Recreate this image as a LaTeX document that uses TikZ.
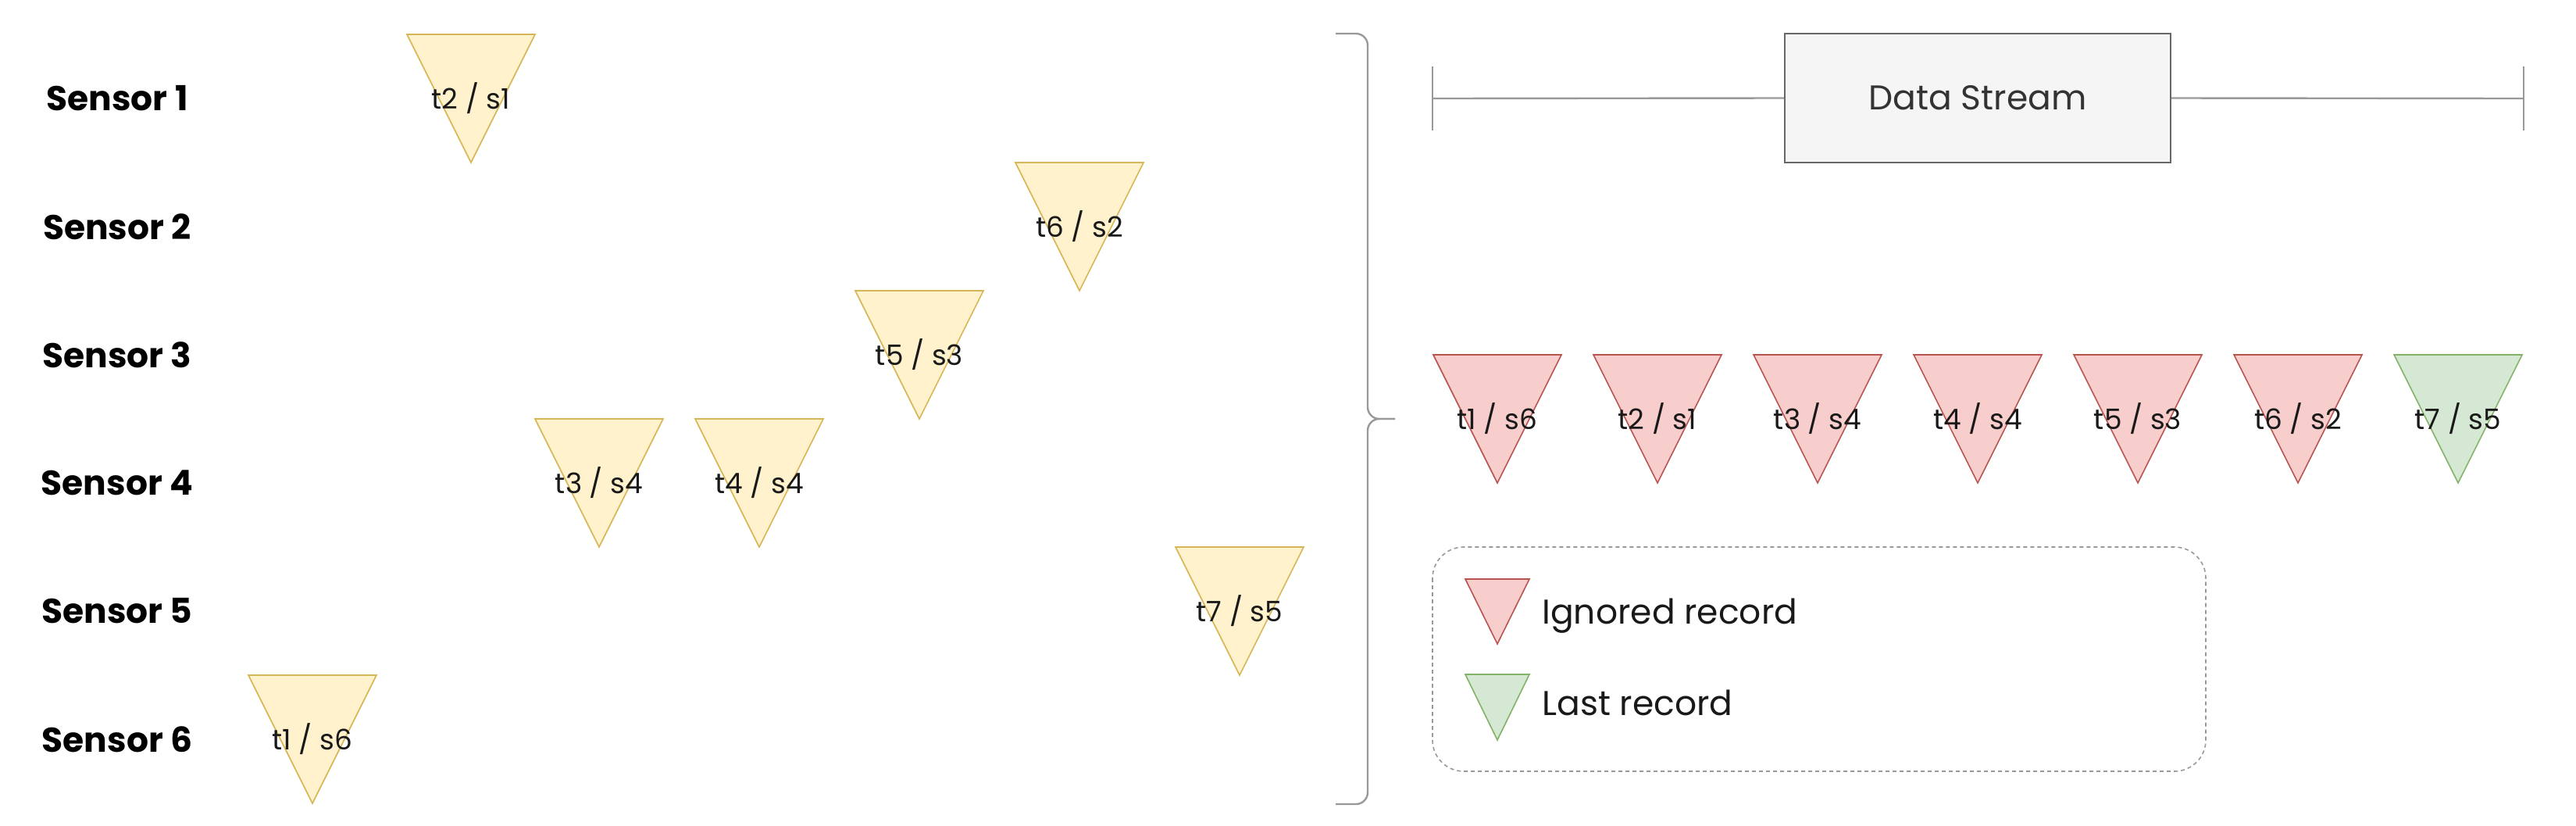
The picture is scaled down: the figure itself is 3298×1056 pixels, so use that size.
\documentclass[tikz,border=0pt]{standalone}
\usepackage{fontspec}
\setmainfont{Poppins}
\definecolor{yfill}{HTML}{FFF2CC}
\definecolor{ydraw}{HTML}{D6B656}
\definecolor{rfill}{HTML}{F8CECC}
\definecolor{rdraw}{HTML}{B85450}
\definecolor{gfill}{HTML}{D5E8D4}
\definecolor{gdraw}{HTML}{82B366}
\definecolor{boxfill}{HTML}{F5F5F5}
\definecolor{boxdraw}{HTML}{666666}
\definecolor{linegray}{HTML}{999999}
\definecolor{txt}{HTML}{333333}
\begin{document}
\begin{tikzpicture}[x=0.5pt,y=-0.5pt,
  sensorlabel/.style={font=\fontsize{22}{25}\selectfont\bfseries, text=black, inner sep=0pt},
  trilabel/.style={font=\fontsize{18}{21}\selectfont, text=black!90, inner sep=0pt},
  legendlabel/.style={font=\fontsize{22}{25}\selectfont, text=black!90, inner sep=0pt, anchor=west},
  ytri/.style={fill=yfill, draw=ydraw, line width=0.8pt, line join=miter},
  rtri/.style={fill=rfill, draw=rdraw, line width=0.8pt, line join=miter},
  gtri/.style={fill=gfill, draw=gdraw, line width=0.8pt, line join=miter},
  grayline/.style={draw=linegray, line width=1.2pt},
]
\useasboundingbox (0,0) rectangle (3298,1056);

% sensor labels
\foreach \i/\yy in {1/126,2/290,3/454,4/618,5/782,6/946}{
  \node[sensorlabel] (sensor\i) at (150,\yy) {Sensor \i};
}

% yellow records
\foreach \nm/\xx/\yy/\lab in {y2/603/126/{t2 / s1}, y6/1382/290/{t6 / s2}, y5/1177/454/{t5 / s3},
  y3/767/618/{t3 / s4}, y4/972/618/{t4 / s4}, y7/1587/782/{t7 / s5}, y1/400/946/{t1 / s6}}{
  \draw[ytri] (\xx-82,\yy-82) -- (\xx+82,\yy-82) -- (\xx,\yy+82) -- cycle;
  \node[trilabel] (\nm) at (\xx,\yy) {\lab};
}

% brace
\draw[grayline, rounded corners=7.5pt] (1710,43) -- (1751,43) -- (1751,536) -- (1786,536);
\draw[grayline, rounded corners=7.5pt] (1786,536) -- (1751,536) -- (1751,1029) -- (1710,1029);

% data stream
\node[draw=boxdraw, fill=boxfill, line width=0.8pt, minimum width=247pt, minimum height=82.5pt,
  font=\fontsize{22}{25}\selectfont, text=txt] (ds) at (2532,125.5) {Data Stream};
\coordinate (dsl) at (1834,126);
\coordinate (dsr) at (3231,126);
\draw[grayline] (dsl) -- (ds.west);
\draw[grayline] (ds.east) -- (dsr);
\draw[grayline] (1834,85) -- (1834,167);
\draw[grayline] (3231,85) -- (3231,167);

% stream records
\foreach \k/\lab in {0/{t1 / s6},1/{t2 / s1},2/{t3 / s4},3/{t4 / s4},4/{t5 / s3},5/{t6 / s2}}{
  \pgfmathsetmacro\xx{1917+205*\k}
  \draw[rtri] (\xx-82,454) -- (\xx+82,454) -- (\xx,618) -- cycle;
  \node[trilabel] (r\k) at (\xx,536) {\lab};
}
\draw[gtri] (3147-82,454) -- (3147+82,454) -- (3147,618) -- cycle;
\node[trilabel] (g6) at (3147,536) {t7 / s5};

% legend
\draw[draw=linegray, line width=0.8pt, dash pattern=on 2.5pt off 2pt, rounded corners=20pt]
  (1834,700) rectangle (2824,987);
\draw[rtri] (1876,741) -- (1958,741) -- (1917,824) -- cycle;
\node[legendlabel] (lign) at (1974,788) {Ignored record};
\draw[gtri] (1876,863) -- (1958,863) -- (1917,947) -- cycle;
\node[legendlabel] (llast) at (1974,899) {Last record};
\end{tikzpicture}
\end{document}
